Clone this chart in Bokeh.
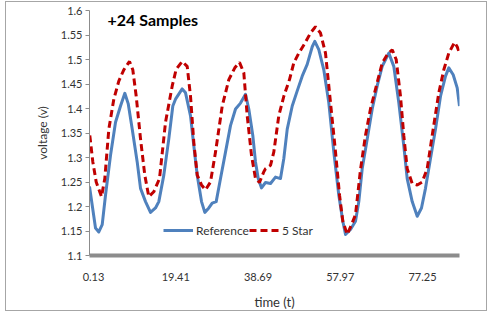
from bokeh.plotting import figure
from bokeh.models import Range1d, FixedTicker, Label, Legend, LegendItem
from bokeh.embed import file_html
from bokeh.resources import INLINE

# ---- data ----
ref_t = [-0.81, 0.60, 1.37, 2.17, 2.94, 4.11, 5.29, 6.46, 7.47, 8.26, 9.20, 10.37, 11.15,
         12.32, 13.49, 14.66, 15.44, 16.61, 17.78, 18.72, 19.35, 20.92, 21.70, 22.87, 23.64,
         24.44, 25.45, 26.22, 27.16, 27.95, 28.89, 29.90, 31.07, 32.24, 33.42, 34.59, 35.76,
         36.53, 37.47, 38.10, 38.74, 39.51, 40.45, 41.62, 42.79, 43.96, 44.74, 45.54, 46.71,
         47.88, 49.05, 50.22, 51.40, 52.00, 52.94, 54.11, 55.28, 56.46, 57.63, 58.57, 59.20,
         60.37, 61.54, 62.32, 63.11, 64.29, 65.46, 66.63, 67.80, 69.35, 70.52, 71.69, 72.86,
         73.66, 74.83, 76.01, 77.01, 77.95, 79.12, 80.30, 81.47, 82.64, 83.41, 84.44, 85.38,
         85.92]
ref_v = [1.241, 1.156, 1.148, 1.163, 1.223, 1.304, 1.372, 1.405, 1.431, 1.410, 1.358, 1.291,
         1.237, 1.210, 1.188, 1.197, 1.210, 1.264, 1.338, 1.405, 1.419, 1.440, 1.432, 1.385,
         1.324, 1.264, 1.210, 1.188, 1.197, 1.207, 1.210, 1.257, 1.311, 1.365, 1.399, 1.411,
         1.429, 1.399, 1.345, 1.291, 1.257, 1.238, 1.249, 1.247, 1.260, 1.257, 1.298, 1.358,
         1.405, 1.436, 1.466, 1.490, 1.526, 1.537, 1.520, 1.479, 1.412, 1.311, 1.223, 1.170,
         1.143, 1.153, 1.170, 1.210, 1.277, 1.338, 1.399, 1.446, 1.486, 1.513, 1.486, 1.412,
         1.324, 1.257, 1.210, 1.180, 1.197, 1.237, 1.298, 1.358, 1.425, 1.466, 1.483, 1.469,
         1.442, 1.405]

star_t = [-0.74, -0.03, 0.76, 2.00, 2.78, 3.72, 4.89, 6.06, 7.23, 8.57, 9.34, 10.14, 11.15,
          12.15, 13.09, 14.26, 15.60, 17.01, 18.58, 19.50, 20.92, 22.09, 22.87, 23.64, 24.44,
          25.45, 26.38, 27.55, 28.73, 30.30, 31.85, 33.25, 34.35, 35.36, 36.16, 37.17, 38.10,
          39.04, 40.05, 40.45, 41.62, 42.39, 43.56, 44.74, 46.07, 47.08, 48.25, 49.66, 50.99,
          52.17, 53.34, 54.51, 55.68, 56.86, 57.80, 58.57, 59.60, 60.61, 61.54, 62.71, 63.88,
          65.05, 66.63, 67.80, 68.97, 70.15, 71.08, 72.09, 72.86, 73.66, 74.83, 76.01, 77.18,
          78.35, 79.52, 81.07, 82.24, 83.41, 84.75, 85.38, 85.92]
star_v = [1.345, 1.291, 1.250, 1.220, 1.257, 1.358, 1.419, 1.456, 1.479, 1.496, 1.479, 1.425,
          1.338, 1.264, 1.220, 1.230, 1.257, 1.372, 1.446, 1.480, 1.496, 1.486, 1.425, 1.331,
          1.264, 1.244, 1.234, 1.250, 1.311, 1.405, 1.459, 1.483, 1.494, 1.473, 1.385, 1.304,
          1.257, 1.249, 1.271, 1.277, 1.284, 1.311, 1.385, 1.425, 1.459, 1.493, 1.513, 1.533,
          1.554, 1.567, 1.554, 1.513, 1.412, 1.311, 1.223, 1.170, 1.143, 1.163, 1.183, 1.275,
          1.345, 1.399, 1.453, 1.493, 1.510, 1.520, 1.500, 1.425, 1.345, 1.277, 1.247, 1.244,
          1.250, 1.277, 1.345, 1.432, 1.479, 1.513, 1.535, 1.526, 1.513]

x_ticks = [0.13, 19.41, 38.69, 57.97, 77.25]
x_tick_labels = ["0.13", "19.41", "38.69", "57.97", "77.25"]
y_ticks = [1.1, 1.15, 1.2, 1.25, 1.3, 1.35, 1.4, 1.45, 1.5, 1.55, 1.6]
y_tick_labels = ["1.1", "1.15", "1.2", "1.25", "1.3", "1.35", "1.4", "1.45", "1.5", "1.55", "1.6"]

title_text = "+24 Samples"
series_names = ["Reference", "5 Star"]

FONT = "Lato"
TXT = "#333333"

p = figure(width=482, height=310, output_backend="svg", toolbar_location=None,
           x_range=Range1d(-0.81, 85.92), y_range=Range1d(1.1, 1.6),
           min_border_left=83, min_border_right=29, min_border_top=8, min_border_bottom=54,
           styles={"margin-left": "5px", "margin-top": "1px", "border": "1px solid #a6a6a6"})
p.outline_line_color = None
p.xgrid.grid_line_color = None
p.ygrid.grid_line_color = None
p.background_fill_color = "white"
p.border_fill_color = "white"

r1 = p.line(ref_t, ref_v, line_color="#4F81BD", line_width=3, line_join="round")
r2 = p.line(star_t, star_v, line_color="#C00000", line_width=3, line_dash="7 4")

# x axis
xa = p.xaxis[0]
xa.ticker = FixedTicker(ticks=x_ticks)
xa.major_label_overrides = {t: l for t, l in zip(x_ticks, x_tick_labels)}
xa.axis_line_color = "#8c8c8c"
xa.axis_line_width = 4
xa.major_tick_line_color = None
xa.minor_tick_line_color = None
xa.major_label_standoff = 11
xa.major_label_text_font = FONT
xa.major_label_text_font_size = "11px"
xa.major_label_text_color = TXT
xa.axis_label = "time (t)"
xa.axis_label_text_font = FONT
xa.axis_label_text_font_size = "13px"
xa.axis_label_text_font_style = "normal"
xa.axis_label_text_color = TXT
xa.axis_label_standoff = 10

# y axis
ya = p.yaxis[0]
ya.ticker = FixedTicker(ticks=y_ticks)
ya.major_label_overrides = {t: l for t, l in zip(y_ticks, y_tick_labels)}
ya.axis_line_color = "#8c8c8c"
ya.axis_line_width = 1
ya.major_tick_line_color = "#8c8c8c"
ya.major_tick_out = 4
ya.major_tick_in = 0
ya.minor_tick_line_color = None
ya.major_label_standoff = 3
ya.major_label_text_font = FONT
ya.major_label_text_font_size = "11px"
ya.major_label_text_color = TXT
ya.axis_label = "voltage (v)"
ya.axis_label_text_font = FONT
ya.axis_label_text_font_size = "12px"
ya.axis_label_text_font_style = "normal"
ya.axis_label_text_color = TXT
ya.axis_label_standoff = 8

# title inside plot area
p.add_layout(Label(x=18, y=236, x_units="screen", y_units="screen", text=title_text,
                   text_font=FONT, text_font_size="16px", text_font_style="bold",
                   text_color="black", text_baseline="middle"))

legend = Legend(items=[LegendItem(label=series_names[0], renderers=[r1]),
                       LegendItem(label=series_names[1], renderers=[r2])],
                location=(74, 17), orientation="horizontal",
                border_line_color=None, background_fill_alpha=0,
                glyph_width=30, glyph_height=16, label_height=16, label_standoff=3,
                spacing=0, padding=0, margin=0,
                label_text_font=FONT, label_text_font_size="12px", label_text_color=TXT)
p.add_layout(legend)

open("out.html", "w").write(file_html(p, INLINE))
